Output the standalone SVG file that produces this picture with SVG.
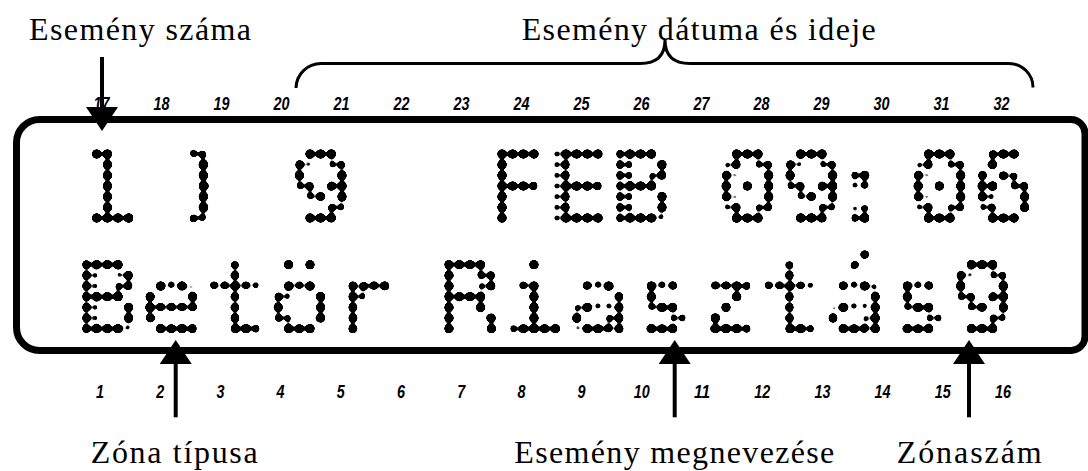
<svg xmlns="http://www.w3.org/2000/svg" width="1088" height="471" viewBox="0 0 1088 471">
<style>
.lbl{font-family:"Liberation Serif","DejaVu Serif",serif;font-size:32px;fill:#000}
.num{font-family:"Liberation Sans",sans-serif;font-weight:bold;font-style:italic;font-size:19px;fill:#000;text-anchor:middle}
.lcd{font-family:"DejaVu Sans Mono","Liberation Mono",monospace;font-weight:normal;font-size:100px;text-anchor:middle;stroke-width:1.1;stroke-linejoin:round}
.frame{fill:none;stroke:#000;stroke-width:7}
.arrow{fill:none;stroke:#000;stroke-width:4;marker-end:url(#tri)}
.brace{fill:none;stroke:#000;stroke-width:3}
</style>
<defs>
<marker id="tri" viewBox="0 0 24 32" refX="3" refY="16" markerWidth="24" markerHeight="32" markerUnits="userSpaceOnUse" orient="auto">
<path d="M0,0 L24,16 L0,32 Z" fill="#000"/>
</marker>
<pattern id="gTop" patternUnits="userSpaceOnUse" x="80.667" y="148.667" width="10.667" height="10.667">
<circle cx="5.333" cy="5.333" r="2.2" fill="#000"/>
</pattern>
<pattern id="gBot" patternUnits="userSpaceOnUse" x="80.667" y="259.333" width="10.667" height="10.667">
<circle cx="5.333" cy="5.333" r="2.2" fill="#000"/>
</pattern>
<filter id="dots" filterUnits="userSpaceOnUse" x="0" y="100" width="1088" height="270" color-interpolation-filters="sRGB">
<feGaussianBlur stdDeviation="2.5"/>
<feComponentTransfer><feFuncA type="linear" slope="55" intercept="-3.82"/></feComponentTransfer>
</filter>
</defs>
<rect width="1088" height="471" fill="#fff"/>

<g id="lcd-panel">
<path class="frame" d="M39.5,119.5 H1071 A14,14 0 0 1 1085,133.5 V336.5 A14,14 0 0 1 1071,350.5 H39.5 A23,23 0 0 1 16.5,327.5 V142.5 A23,23 0 0 1 39.5,119.5 Z"/>
<g filter="url(#dots)">
<text class="lcd" fill="url(#gTop)" stroke="url(#gTop)" y="223"><tspan x="107.3">1</tspan><tspan x="150"> </tspan><tspan x="203.5" y="211.3" font-size="81" stroke-width="4">)</tspan><tspan x="260" y="223"> </tspan><tspan x="321.3">9</tspan><tspan x="420"> </tspan><tspan x="513 577 641.3">FEB</tspan><tspan x="690"> </tspan><tspan x="748 812 860.7 940 1004">09:06</tspan></text>
<text class="lcd" fill="url(#gBot)" stroke="url(#gBot)" x="107.3 171.3 236 300 364 406 470.7 534.7 598.7 662.7 726.7 790.7 855.3 918.7 982.7" y="333.7">Betör Riasztás9</text>
</g>
</g>

<g id="numbers-top">
<text class="num" x="101.5" y="110" textLength="16" lengthAdjust="spacingAndGlyphs">17</text>
<text class="num" x="161.5" y="110" textLength="16" lengthAdjust="spacingAndGlyphs">18</text>
<text class="num" x="221.5" y="110" textLength="16" lengthAdjust="spacingAndGlyphs">19</text>
<text class="num" x="281.5" y="110" textLength="16" lengthAdjust="spacingAndGlyphs">20</text>
<text class="num" x="341.5" y="110" textLength="16" lengthAdjust="spacingAndGlyphs">21</text>
<text class="num" x="401.5" y="110" textLength="16" lengthAdjust="spacingAndGlyphs">22</text>
<text class="num" x="461.5" y="110" textLength="16" lengthAdjust="spacingAndGlyphs">23</text>
<text class="num" x="521.5" y="110" textLength="16" lengthAdjust="spacingAndGlyphs">24</text>
<text class="num" x="581.5" y="110" textLength="16" lengthAdjust="spacingAndGlyphs">25</text>
<text class="num" x="641.5" y="110" textLength="16" lengthAdjust="spacingAndGlyphs">26</text>
<text class="num" x="701.5" y="110" textLength="16" lengthAdjust="spacingAndGlyphs">27</text>
<text class="num" x="761.5" y="110" textLength="16" lengthAdjust="spacingAndGlyphs">28</text>
<text class="num" x="821.5" y="110" textLength="16" lengthAdjust="spacingAndGlyphs">29</text>
<text class="num" x="881.5" y="110" textLength="16" lengthAdjust="spacingAndGlyphs">30</text>
<text class="num" x="941.5" y="110" textLength="16" lengthAdjust="spacingAndGlyphs">31</text>
<text class="num" x="1001.5" y="110" textLength="16" lengthAdjust="spacingAndGlyphs">32</text>
</g>
<g id="numbers-bottom">
<text class="num" x="100" y="398" textLength="8" lengthAdjust="spacingAndGlyphs">1</text>
<text class="num" x="160.2" y="398" textLength="8" lengthAdjust="spacingAndGlyphs">2</text>
<text class="num" x="220.4" y="398" textLength="8" lengthAdjust="spacingAndGlyphs">3</text>
<text class="num" x="280.6" y="398" textLength="8" lengthAdjust="spacingAndGlyphs">4</text>
<text class="num" x="340.8" y="398" textLength="8" lengthAdjust="spacingAndGlyphs">5</text>
<text class="num" x="401" y="398" textLength="8" lengthAdjust="spacingAndGlyphs">6</text>
<text class="num" x="461.2" y="398" textLength="8" lengthAdjust="spacingAndGlyphs">7</text>
<text class="num" x="521.4" y="398" textLength="8" lengthAdjust="spacingAndGlyphs">8</text>
<text class="num" x="581.6" y="398" textLength="8" lengthAdjust="spacingAndGlyphs">9</text>
<text class="num" x="641.8" y="398" textLength="16" lengthAdjust="spacingAndGlyphs">10</text>
<text class="num" x="702" y="398" textLength="16" lengthAdjust="spacingAndGlyphs">11</text>
<text class="num" x="762.2" y="398" textLength="16" lengthAdjust="spacingAndGlyphs">12</text>
<text class="num" x="822.4" y="398" textLength="16" lengthAdjust="spacingAndGlyphs">13</text>
<text class="num" x="882.6" y="398" textLength="16" lengthAdjust="spacingAndGlyphs">14</text>
<text class="num" x="942.8" y="398" textLength="16" lengthAdjust="spacingAndGlyphs">15</text>
<text class="num" x="1003" y="398" textLength="16" lengthAdjust="spacingAndGlyphs">16</text>
</g>

<g id="label-event-number"><text class="lbl" x="29" y="39.5" textLength="222" lengthAdjust="spacing">Esemény száma</text></g>
<g id="label-event-datetime"><text class="lbl" x="521.7" y="39.5" textLength="354" lengthAdjust="spacing">Esemény dátuma és ideje</text></g>
<g id="label-zone-type"><text class="lbl" x="90.7" y="462.7" textLength="167" lengthAdjust="spacing">Zóna típusa</text></g>
<g id="label-event-name"><text class="lbl" x="514.3" y="462.7" textLength="320" lengthAdjust="spacing">Esemény megnevezése</text></g>
<g id="label-zone-number"><text class="lbl" x="896.7" y="462.7" textLength="145" lengthAdjust="spacing">Zónaszám</text></g>

<g id="connectors">
<line class="arrow" x1="102" y1="57" x2="102" y2="110"/>
<line class="arrow" x1="175.7" y1="417.3" x2="175.7" y2="361"/>
<line class="arrow" x1="674.7" y1="417.3" x2="674.7" y2="361"/>
<line class="arrow" x1="969" y1="417.3" x2="969" y2="361"/>
<path class="brace" d="M296,88 A25,25 0 0 1 321,63.5 H640 Q665,63.5 665,40 Q665,63.5 690,63.5 H1009 A24,24 0 0 1 1033,87.5"/>
</g>
</svg>
